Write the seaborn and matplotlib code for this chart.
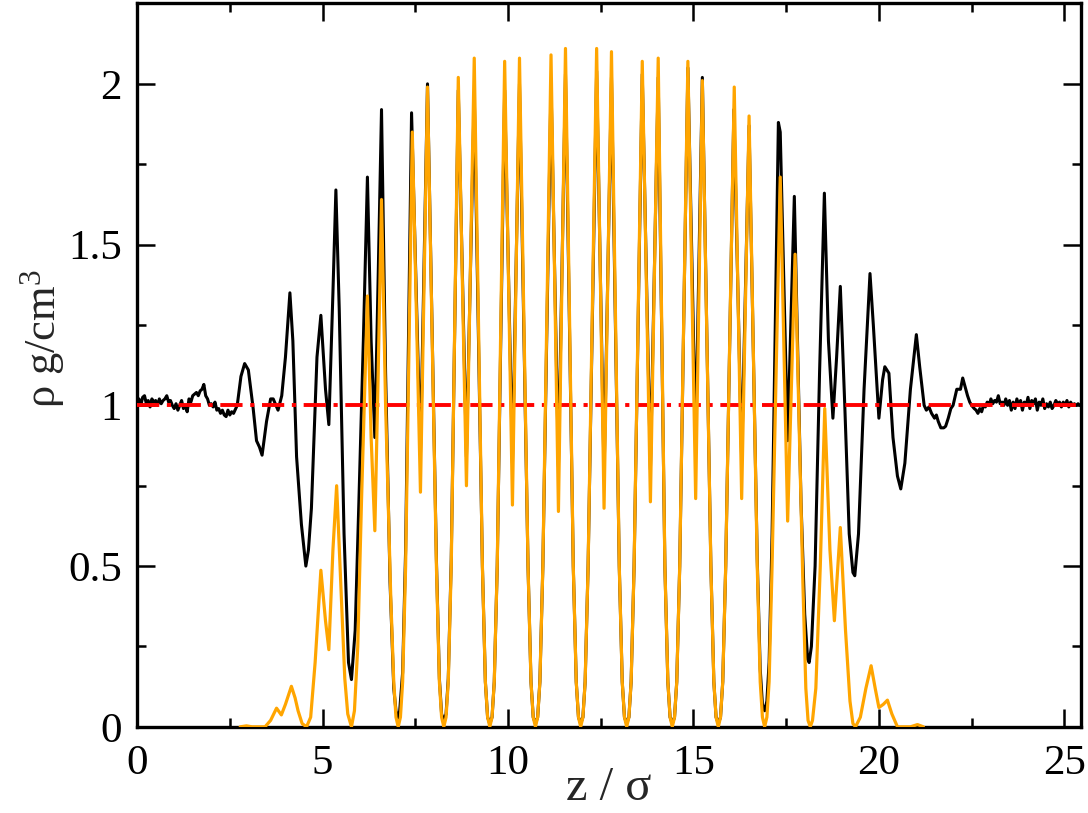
import matplotlib
matplotlib.use("Agg")
import matplotlib.pyplot as plt
import seaborn as sns
from matplotlib.ticker import MultipleLocator, FuncFormatter

# density profile, all atoms (black)
z_black = [
    0.00, 0.05, 0.10, 0.15, 0.20, 0.25, 0.30, 0.35, 0.40, 0.45,
    0.50, 0.55, 0.60, 0.65, 0.70, 0.75, 0.80, 0.85, 0.90, 0.95,
    1.00, 1.05, 1.10, 1.15, 1.20, 1.25, 1.30, 1.35, 1.40, 1.45,
    1.50, 1.55, 1.60, 1.65, 1.70, 1.75, 1.80, 1.85, 1.90, 1.95,
    2.00, 2.05, 2.10, 2.15, 2.20, 2.25, 2.30, 2.35, 2.40, 2.45,
    2.50, 2.55, 2.60,
    2.70, 2.80, 2.90, 3.00, 3.13, 3.22, 3.30, 3.37, 3.49, 3.60, 3.67, 3.80, 3.90,
    4.00, 4.12, 4.20, 4.30, 4.43, 4.55, 4.62, 4.70, 4.85, 4.955, 5.08, 5.17, 5.28,
    5.36, 5.45, 5.58, 5.70, 5.78, 5.88, 5.98, 6.10, 6.21, 6.31, 6.41, 6.50, 6.59,
    6.70, 6.82, 6.92, 6.98, 7.02,
    7.08, 7.16, 7.24, 7.40, 7.64, 7.83, 8.07, 8.15, 8.21, 8.27,
    8.33, 8.39, 8.47, 8.66, 8.88, 9.09, 9.31, 9.39, 9.45, 9.51,
    9.57, 9.63, 9.71, 9.91, 10.12, 10.31, 10.54, 10.62, 10.68, 10.74,
    10.80, 10.86, 10.94, 11.16, 11.36, 11.55, 11.76, 11.84, 11.90, 11.96,
    12.02, 12.08, 12.16, 12.39, 12.59, 12.79, 13.00, 13.08, 13.14, 13.20,
    13.26, 13.32, 13.40, 13.62, 13.84, 14.05, 14.23, 14.31, 14.37, 14.43,
    14.49, 14.55, 14.63, 14.85, 15.06, 15.24, 15.47, 15.55, 15.61, 15.67,
    15.73, 15.79, 15.87, 16.09, 16.30, 16.50, 16.72, 16.80, 16.86, 16.92,
    16.98, 17.04, 17.12, 17.29, 17.34, 17.54, 17.72, 17.90, 18.00, 18.08, 18.12,
    18.18, 18.28, 18.40, 18.53, 18.64, 18.76, 18.86, 18.96, 19.08, 19.20, 19.30,
    19.35, 19.45, 19.60, 19.76, 19.85, 20.00, 20.10, 20.16, 20.27, 20.38, 20.50,
    20.59, 20.70, 20.85, 21.01, 21.10, 21.22,
    21.28, 21.35, 21.42, 21.50, 21.55, 21.60, 21.67, 21.75, 21.80, 21.87,
    21.94, 22.00, 22.10, 22.20, 22.26, 22.32, 22.39, 22.45, 22.50, 22.57,
    22.62, 22.67, 22.72, 22.77, 22.82, 22.87, 22.92, 22.97, 23.02, 23.07,
    23.12, 23.17, 23.22, 23.27, 23.32, 23.37, 23.42, 23.47, 23.52, 23.57,
    23.62, 23.67, 23.72, 23.77, 23.82, 23.87, 23.92, 23.97, 24.02, 24.07,
    24.12, 24.17, 24.22, 24.27, 24.32, 24.37, 24.42, 24.47, 24.52, 24.57,
    24.62, 24.67, 24.72, 24.77, 24.82, 24.87, 24.92, 24.97, 25.02, 25.07,
    25.12, 25.17, 25.22, 25.27, 25.32, 25.37, 25.42,
]
rho_black = [
    0.99, 1.02, 1.0, 1.025, 1.03, 1.005, 1.015, 0.995, 1.02, 1.01,
    1.015, 1.0, 1.02, 1.005, 1.015, 1.02, 1.03, 1.01, 1.015, 1.0,
    0.99, 1.005, 0.985, 1.0, 1.015, 0.99, 1.0, 0.98, 1.02, 1.01,
    1.03, 1.035, 1.04, 1.03, 1.045, 1.05, 1.065, 1.03, 1.02, 1.0,
    1.005, 0.995, 1.01, 0.985, 0.99, 0.975, 0.985, 0.97, 0.965, 0.985,
    0.97, 0.98, 0.975,
    1.00, 1.09, 1.13, 1.11, 0.99, 0.89, 0.87, 0.845, 0.95, 1.02, 1.02, 0.985, 1.03,
    1.15, 1.35, 1.2, 0.84, 0.63, 0.50, 0.55, 0.68, 1.15, 1.28, 1.05, 0.94, 1.35,
    1.67, 1.3, 0.6, 0.2, 0.147, 0.3, 0.7, 1.2, 1.71, 1.2, 0.90, 1.4, 1.92,
    1.1, 0.45, 0.12, 0.05, 0.026,
    0.05, 0.17, 0.55, 1.91, 0.85, 2.00, 0.52, 0.15, 0.04, 0.02,
    0.04, 0.15, 0.52, 1.98, 0.84, 1.97, 0.5, 0.14, 0.03, 0.01,
    0.03, 0.14, 0.5, 1.98, 0.82, 2.00, 0.5, 0.14, 0.03, 0.01,
    0.03, 0.14, 0.5, 2.00, 0.81, 2.03, 0.5, 0.14, 0.03, 0.01,
    0.03, 0.14, 0.5, 2.04, 0.78, 2.02, 0.5, 0.14, 0.03, 0.01,
    0.03, 0.14, 0.5, 2.03, 0.80, 2.02, 0.5, 0.14, 0.03, 0.01,
    0.03, 0.14, 0.5, 2.05, 0.89, 2.02, 0.5, 0.14, 0.03, 0.01,
    0.03, 0.14, 0.5, 1.92, 0.83, 1.87, 0.52, 0.18, 0.07, 0.05,
    0.08, 0.2, 0.6, 1.88, 1.85, 0.89, 1.65, 0.7, 0.35, 0.21, 0.2,
    0.25, 0.5, 1.1, 1.66, 1.2, 0.96, 1.15, 1.37, 1.0, 0.6, 0.48,
    0.47, 0.6, 1.05, 1.41, 1.25, 0.96, 1.08, 1.12, 1.10, 0.9, 0.78,
    0.74, 0.82, 1.05, 1.22, 1.12, 1.0,
    0.985, 0.995, 0.975, 0.96, 0.97, 0.95, 0.93, 0.93, 0.935, 0.96,
    0.99, 1.0, 1.05, 1.05, 1.085, 1.06, 1.03, 1.01, 1.0, 0.99,
    0.985, 0.975, 0.99, 0.98, 1.0, 0.995, 1.01, 1.0, 1.02, 1.005,
    1.015, 1.01, 1.03, 1.005, 1.01, 1.0, 1.02, 1.0, 1.015, 0.985,
    1.01, 0.99, 1.02, 1.0, 1.015, 0.985, 1.01, 1.0, 1.025, 0.99,
    1.015, 1.005, 1.02, 0.985, 1.01, 1.0, 1.02, 0.99, 1.005, 0.995,
    1.01, 0.99, 1.0, 1.015, 1.005, 1.01, 0.995, 1.01, 1.0, 1.015,
    0.995, 1.01, 1.0, 1.005, 1.0, 1.005, 1.0,
]

# density profile, adsorbed layer species (orange)
z_orange = [
    2.78, 2.95, 3.10, 3.45, 3.60, 3.76, 3.89, 4.00, 4.16, 4.26, 4.34, 4.45, 4.57,
    4.68, 4.80, 4.955, 5.08, 5.17, 5.28, 5.38, 5.50, 5.60, 5.68, 5.78,
    5.86, 5.95, 6.05, 6.21, 6.31, 6.41, 6.50, 6.59, 6.70, 6.84, 6.92, 6.98, 7.04,
    7.10, 7.16, 7.24, 7.42, 7.64, 7.83, 8.07, 8.15, 8.21, 8.27,
    8.33, 8.39, 8.47, 8.66, 8.88, 9.09, 9.31, 9.39, 9.45, 9.51,
    9.57, 9.63, 9.71, 9.91, 10.12, 10.31, 10.54, 10.62, 10.68, 10.74,
    10.80, 10.86, 10.94, 11.16, 11.36, 11.55, 11.76, 11.84, 11.90, 11.96,
    12.02, 12.08, 12.16, 12.39, 12.59, 12.79, 13.00, 13.08, 13.14, 13.20,
    13.26, 13.32, 13.40, 13.62, 13.84, 14.05, 14.23, 14.31, 14.37, 14.43,
    14.49, 14.55, 14.63, 14.85, 15.06, 15.24, 15.47, 15.55, 15.61, 15.67,
    15.73, 15.79, 15.87, 16.10, 16.30, 16.50, 16.72, 16.80, 16.86, 16.92,
    16.98, 17.04, 17.12, 17.34, 17.54, 17.74, 17.95, 18.03, 18.09, 18.15,
    18.21, 18.30, 18.42, 18.54, 18.68, 18.80, 18.96, 19.10, 19.22, 19.30, 19.37,
    19.50, 19.65, 19.79, 19.90, 20.00, 20.12, 20.23, 20.35, 20.50, 20.85, 21.04, 21.20,
]
rho_orange = [
    0.0, 0.003, 0.0, 0.0, 0.02, 0.058, 0.037, 0.07, 0.126, 0.09, 0.05, 0.01, 0.0,
    0.03, 0.2, 0.487, 0.33, 0.24, 0.55, 0.75, 0.42, 0.15, 0.04, 0.0,
    0.05, 0.25, 0.7, 1.34, 0.9, 0.61, 1.1, 1.64, 1.0, 0.4, 0.14, 0.03, 0.0,
    0.03, 0.14, 0.5, 1.85, 0.73, 1.99, 0.5, 0.14, 0.03, 0.0,
    0.03, 0.14, 0.5, 2.02, 0.75, 2.08, 0.5, 0.14, 0.03, 0.0,
    0.03, 0.14, 0.5, 2.07, 0.69, 2.08, 0.5, 0.14, 0.03, 0.0,
    0.03, 0.14, 0.5, 2.09, 0.67, 2.11, 0.5, 0.14, 0.03, 0.0,
    0.03, 0.14, 0.5, 2.11, 0.68, 2.10, 0.5, 0.14, 0.03, 0.0,
    0.03, 0.14, 0.5, 2.07, 0.70, 2.08, 0.5, 0.14, 0.03, 0.0,
    0.03, 0.14, 0.5, 2.07, 0.71, 2.01, 0.5, 0.14, 0.03, 0.0,
    0.03, 0.14, 0.5, 1.99, 0.71, 1.90, 0.5, 0.14, 0.03, 0.0,
    0.03, 0.14, 0.5, 1.71, 0.64, 1.47, 0.45, 0.12, 0.02, 0.0,
    0.02, 0.12, 0.5, 0.99, 0.55, 0.33, 0.62, 0.3, 0.08, 0.01, 0.0,
    0.03, 0.12, 0.19, 0.12, 0.06, 0.07, 0.083, 0.04, 0.0, 0.0, 0.007, 0.0,
]

bulk_rho = 1.0

sns.set_style("ticks")
plt.rcParams["font.family"] = ["Liberation Serif", "DejaVu Serif"]
plt.rcParams["mathtext.fontset"] = "custom"
plt.rcParams["mathtext.rm"] = "Liberation Serif"
plt.rcParams["mathtext.default"] = "regular"
plt.rcParams["lines.scale_dashes"] = False

fig = plt.figure(figsize=(10.88, 8.13), dpi=100)
ax = fig.add_axes([0.126, 0.106, 0.8676, 0.8905])

sns.lineplot(x=z_black, y=rho_black, color="black", lw=2.2, ax=ax,
             estimator=None, sort=False, zorder=2)
ax.axhline(bulk_rho, color="#ff0000", lw=2.8, zorder=3,
           linestyle=(0, (16, 5.5, 3, 5.5)))
sns.lineplot(x=z_orange, y=rho_orange, color="#ffa500", lw=2.3, ax=ax,
             estimator=None, sort=False, zorder=4)

ax.set_xlim(0, 25.45)
ax.set_ylim(0, 2.252)
ax.xaxis.set_major_locator(MultipleLocator(5))
ax.xaxis.set_minor_locator(MultipleLocator(2.5))
ax.yaxis.set_major_locator(MultipleLocator(0.5))
ax.yaxis.set_minor_locator(MultipleLocator(0.25))
ax.yaxis.set_major_formatter(FuncFormatter(lambda v, p: f"{v:g}"))
ax.xaxis.set_major_formatter(FuncFormatter(lambda v, p: f"{v:g}"))

ax.tick_params(which="both", direction="in", top=True, right=True,
               width=1.8, colors="black", labelsize=31)
ax.tick_params(which="major", length=13)
ax.tick_params(which="minor", length=6.5)
ax.tick_params(axis="x", which="major", pad=13)
ax.tick_params(axis="y", which="major", pad=11)
for s in ax.spines.values():
    s.set_linewidth(2.4)
    s.set_color("black")

ax.set_xlabel("z / σ", fontsize=35)
ax.xaxis.label.set_va("baseline")
ax.xaxis.set_label_coords(0.5, -0.101)
ax.set_ylabel(r"ρ g/cm$^{3}$", fontsize=32)
ax.yaxis.label.set_va("baseline")
ax.yaxis.set_label_coords(-0.087, 0.537)

fig.savefig("out.png", dpi=100)
